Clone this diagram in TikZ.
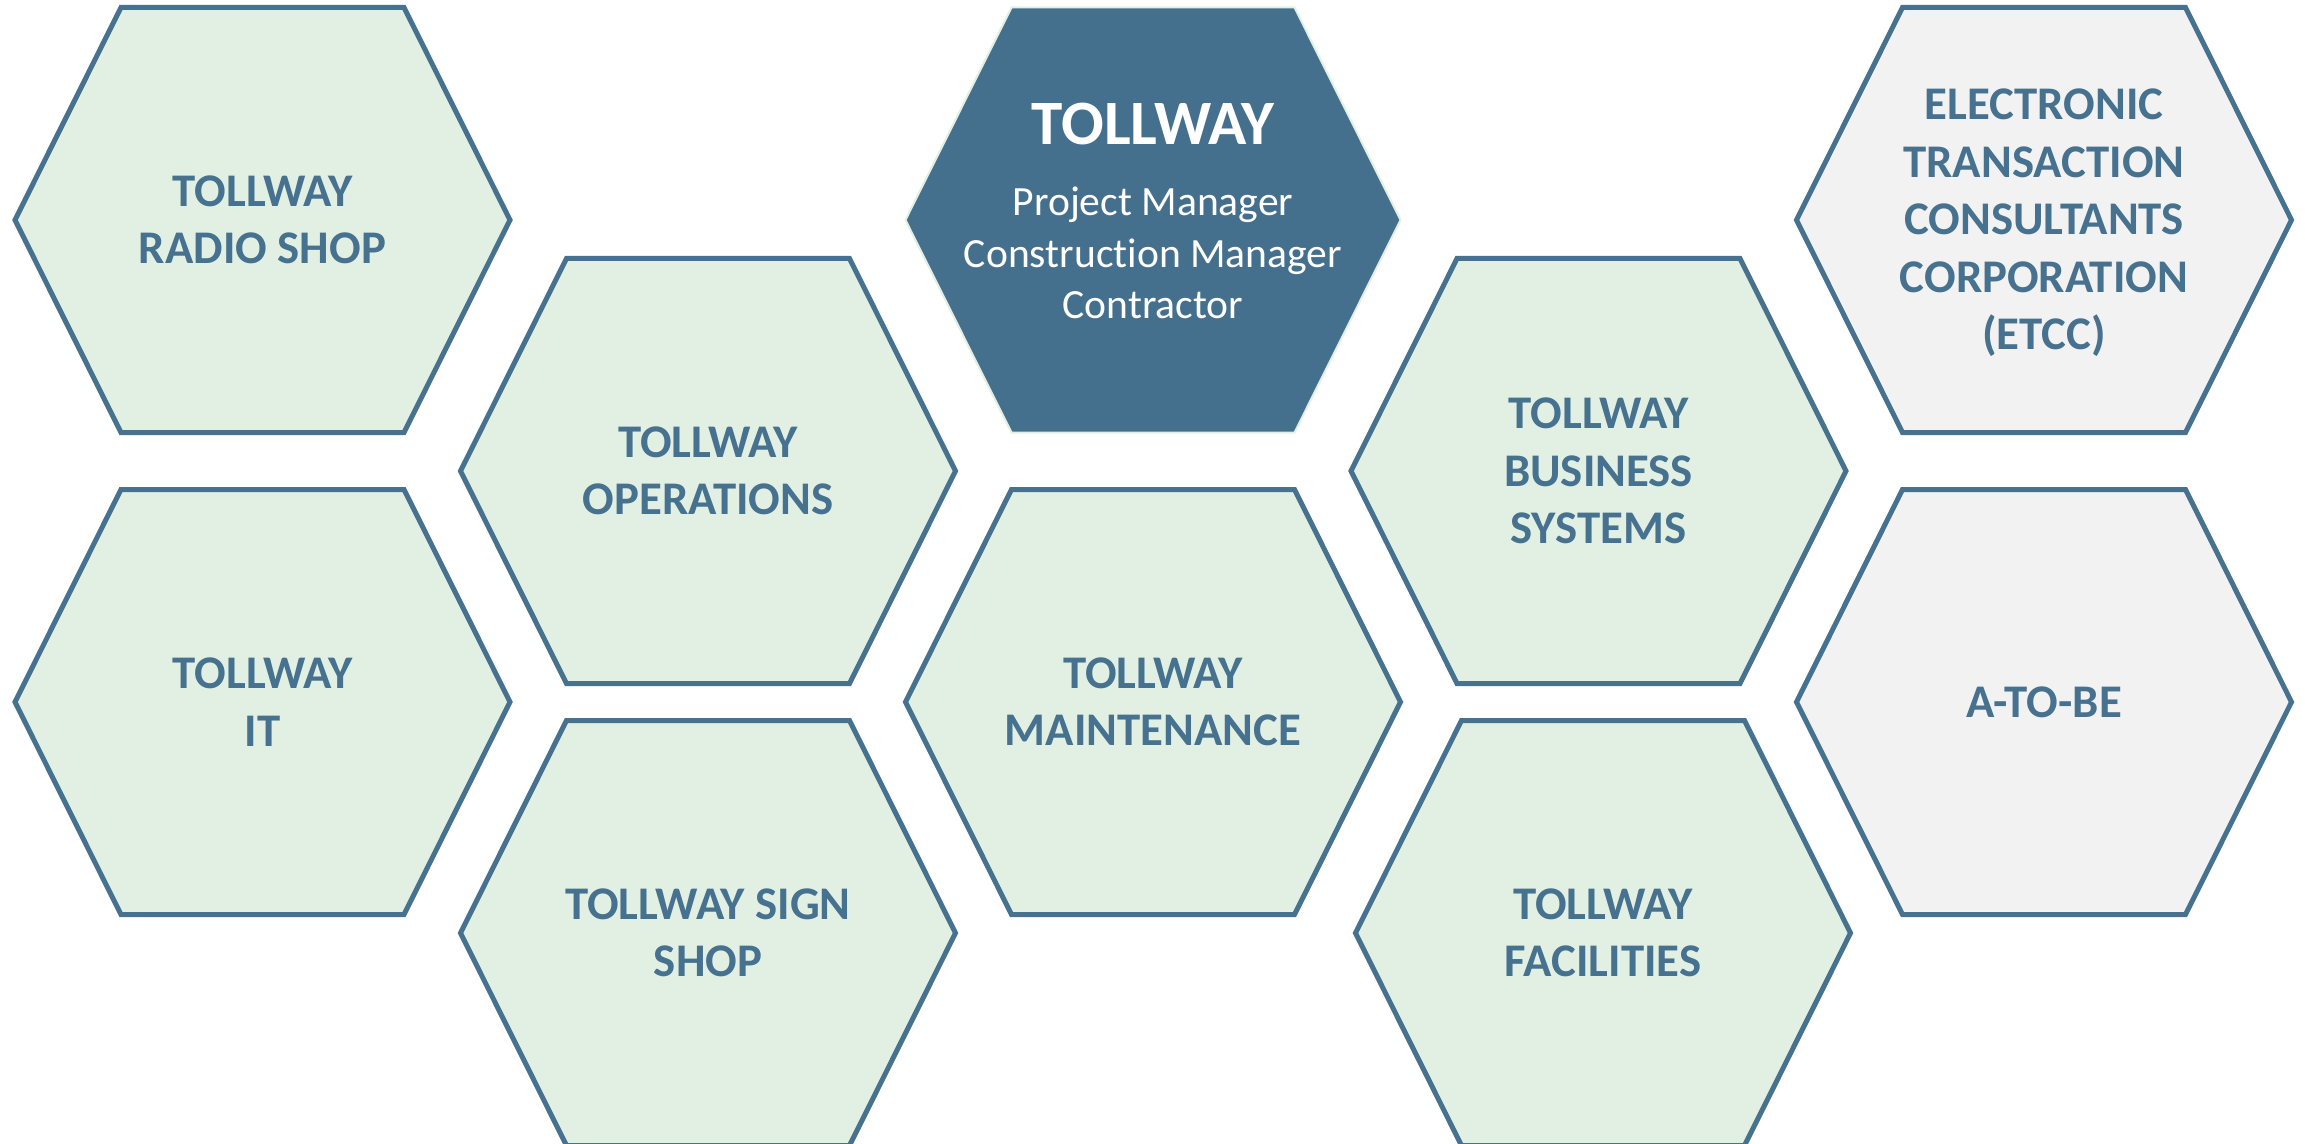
\documentclass[tikz,border=0pt]{standalone}
\usepackage{fontspec}
\setmainfont{Carlito}[Ligatures={NoCommon,NoRare}]
\definecolor{hexblue}{HTML}{46718F}
\definecolor{hexgreen}{HTML}{E2F0E3}
\definecolor{hexgrey}{HTML}{F2F2F2}
\definecolor{hexdark}{HTML}{44708E}
\tikzset{
  hexagon/.pic={\path[pic actions] (-247.5,0) -- (-141.5,-212.5) -- (141.5,-212.5) -- (247.5,0) -- (141.5,212.5) -- (-141.5,212.5) -- cycle;},
  greenhex/.style={fill=hexgreen, draw=hexblue, line width=2.5pt},
  greyhex/.style={fill=hexgrey, draw=hexblue, line width=2.5pt},
  darkhex/.style={fill=hexdark, draw=hexgreen, line width=1pt},
  hextext/.style={text=hexblue, align=center, inner sep=0pt,
    font=\fontsize{23.4pt}{28.75pt}\selectfont\bfseries},
  titletext/.style={text=white, anchor=base, inner sep=0pt,
    font=\fontsize{31.6pt}{36pt}\selectfont\bfseries},
  roletext/.style={text=white, anchor=base, inner sep=0pt,
    font=\fontsize{20.8pt}{25pt}\selectfont},
}
\begin{document}
\begin{tikzpicture}[x=0.5pt,y=-0.5pt]
\useasboundingbox (0,0) rectangle (2305,1144);
% hexagons
\pic[greenhex] at (262.5,220) {hexagon};
\pic[greenhex] at (262.5,702) {hexagon};
\pic[greenhex] at (708,471) {hexagon};
\pic[greenhex] at (708,933) {hexagon};
\pic[darkhex]  at (1153,220) {hexagon};
\pic[greenhex] at (1153,702) {hexagon};
\pic[greenhex] at (1598.5,471) {hexagon};
\pic[greenhex] at (1603,933) {hexagon};
\pic[greyhex]  at (2044,220) {hexagon};
\pic[greyhex]  at (2044,702) {hexagon};
% labels
\node[hextext] (radio) at (262.5,220) {TOLLWAY\\RADIO SHOP};
\node[hextext] (it) at (262.5,702) {TOLLWAY\\IT};
\node[hextext] (ops) at (708,471) {TOLLWAY\\OPERATIONS};
\node[hextext] (sign) at (708,933) {TOLLWAY SIGN\\SHOP};
\node[hextext] (maint) at (1153,702) {TOLLWAY\\MAINTENANCE};
\node[hextext] (bus) at (1598.5,471) {TOLLWAY\\BUSINESS\\SYSTEMS};
\node[hextext] (fac) at (1603,933) {TOLLWAY\\FACILITIES};
\node[hextext] (etcc) at (2044,223) {ELECTRONIC\\TRANSACTION\\CONSULTANTS\\CORPORATION\\(ETCC)};
\node[hextext] (atobe) at (2044,702) {A-TO-BE};
% central
\node[titletext] (tollway) at (1153,145) {TOLLWAY};
\node[roletext] (pm) at (1153,216) {Project Manager};
\node[roletext] (cm) at (1153,267.5) {Construction Manager};
\node[roletext] (contractor) at (1153,319) {Contractor};
\end{tikzpicture}
\end{document}
